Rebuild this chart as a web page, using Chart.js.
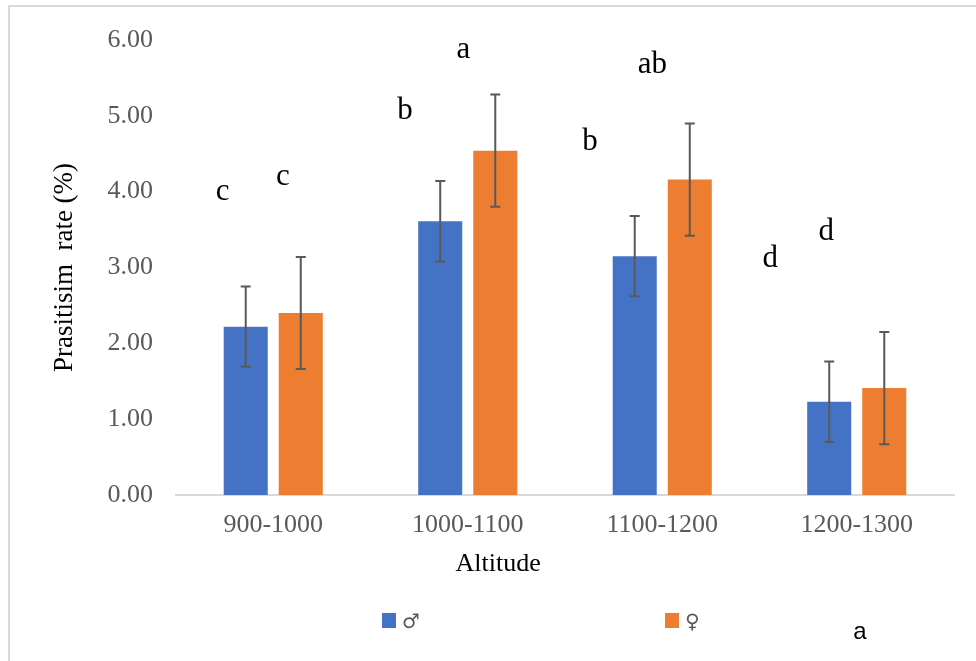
<!DOCTYPE html>
<html>
<head>
<meta charset="utf-8">
<script src="https://cdn.jsdelivr.net/npm/chart.js@4.4.1/dist/chart.umd.min.js"></script>
<style>
  html, body { margin: 0; padding: 0; background: #fff; overflow: hidden; }
  #wrap { position: relative; width: 976px; height: 661px; }
  #frame { position: absolute; left: 8px; top: 5px; width: 1200px; height: 900px;
           border-left: 2px solid #d9d9d9; border-top: 2px solid #d9d9d9; pointer-events: none; }
  canvas { position: absolute; left: 0; top: 0; }
</style>
</head>
<body>
<div id="wrap">
  <canvas id="chart" width="976" height="661"></canvas>
  <div id="frame"></div>
</div>
<script>
const categories = ['900-1000', '1000-1100', '1100-1200', '1200-1300'];
const maleRate = [2.22, 3.61, 3.15, 1.23];
const femaleRate = [2.40, 4.54, 4.16, 1.41];
const maleErr = [0.53, 0.53, 0.53, 0.53];
const femaleErr = [0.74, 0.74, 0.74, 0.74];

// significance letters, placed in data space (category index, value)
const maleLetters = ['c', 'b', 'b', 'd'];
const maleLetterX = [-0.26, 0.678, 1.629, 2.555];
const maleLetterY = [3.89, 4.96, 4.55, 3.01];
const femaleLetters = ['c', 'a', 'ab', 'd'];
const femaleLetterX = [0.049, 0.977, 1.949, 2.843];
const femaleLetterY = [4.09, 5.76, 5.57, 3.36];

const serif = '"Liberation Serif", "Times New Roman", serif';

const errorBars = {
  id: 'errorBars',
  afterDatasetsDraw(chart) {
    const ctx = chart.ctx;
    const y = chart.scales.y;
    ctx.save();
    ctx.strokeStyle = '#595959';
    ctx.lineWidth = 2;
    chart.data.datasets.forEach((ds, i) => {
      chart.getDatasetMeta(i).data.forEach((bar, j) => {
        const top = y.getPixelForValue(ds.data[j] + ds.errors[j]);
        const bot = y.getPixelForValue(ds.data[j] - ds.errors[j]);
        ctx.beginPath();
        ctx.moveTo(bar.x, top);
        ctx.lineTo(bar.x, bot);
        ctx.moveTo(bar.x - 5, top);
        ctx.lineTo(bar.x + 5, top);
        ctx.moveTo(bar.x - 5, bot);
        ctx.lineTo(bar.x + 5, bot);
        ctx.stroke();
      });
    });
    ctx.restore();
  }
};

const extras = {
  id: 'extras',
  afterDraw(chart) {
    const ctx = chart.ctx;
    const x = chart.scales.x;
    const y = chart.scales.y;
    const area = chart.chartArea;
    ctx.save();

    // letters
    ctx.fillStyle = '#000';
    ctx.font = '31px ' + serif;
    ctx.textAlign = 'center';
    ctx.textBaseline = 'alphabetic';
    maleLetters.forEach((t, i) => {
      ctx.fillText(t, x.getPixelForValue(maleLetterX[i]), y.getPixelForValue(maleLetterY[i]));
    });
    femaleLetters.forEach((t, i) => {
      ctx.fillText(t, x.getPixelForValue(femaleLetterX[i]), y.getPixelForValue(femaleLetterY[i]));
    });

    // x axis title (sits left of centre in the original)
    ctx.font = '26px ' + serif;
    ctx.textBaseline = 'middle';
    ctx.fillText('Altitude', area.left + (area.right - area.left) * 0.414, 564);

    // legend
    const legendX = [382, 665];
    chart.data.datasets.forEach((ds, i) => {
      ctx.fillStyle = ds.backgroundColor;
      ctx.fillRect(legendX[i], 613, 14, 15);
      ctx.fillStyle = '#595959';
      ctx.font = '20px "DejaVu Sans"';
      ctx.textAlign = 'left';
      ctx.fillText(ds.label, legendX[i] + 20, 623);
    });

    // stray label under the chart
    ctx.fillStyle = '#000';
    ctx.font = '24px "Liberation Sans", Arial, sans-serif';
    ctx.textAlign = 'center';
    ctx.fillText('a', 860, 632);
    ctx.restore();
  }
};

new Chart(document.getElementById('chart'), {
  type: 'bar',
  data: {
    labels: categories,
    datasets: [
      { label: '♂', data: maleRate, errors: maleErr, backgroundColor: '#4472C4' },
      { label: '♀', data: femaleRate, errors: femaleErr, backgroundColor: '#ED7D31' }
    ]
  },
  options: {
    responsive: false,
    animation: false,
    devicePixelRatio: 1,
    categoryPercentage: 0.566,
    barPercentage: 0.8,
    layout: { padding: { top: 40, right: 22, bottom: 0, left: 0 } },
    plugins: {
      legend: { display: false },
      tooltip: { enabled: false }
    },
    scales: {
      x: {
        grid: { display: false, drawTicks: false },
        border: { display: true, color: '#d9d9d9', width: 2 },
        ticks: { color: '#595959', font: { family: serif, size: 26 }, padding: 15 },
        afterFit(scale) { scale.height = 166; }
      },
      y: {
        min: 0,
        max: 6,
        grid: { display: false, drawTicks: false },
        border: { display: false },
        ticks: {
          stepSize: 1,
          color: '#595959',
          font: { family: serif, size: 26 },
          padding: 23,
          callback: v => v.toFixed(2)
        },
        title: {
          display: true,
          text: 'Prasitisim  rate (%)',
          color: '#000',
          font: { family: serif, size: 27 },
          padding: { top: 49, bottom: 0 }
        },
        afterFit(scale) { scale.width = 176; }
      }
    }
  },
  plugins: [errorBars, extras]
});
</script>
</body>
</html>
